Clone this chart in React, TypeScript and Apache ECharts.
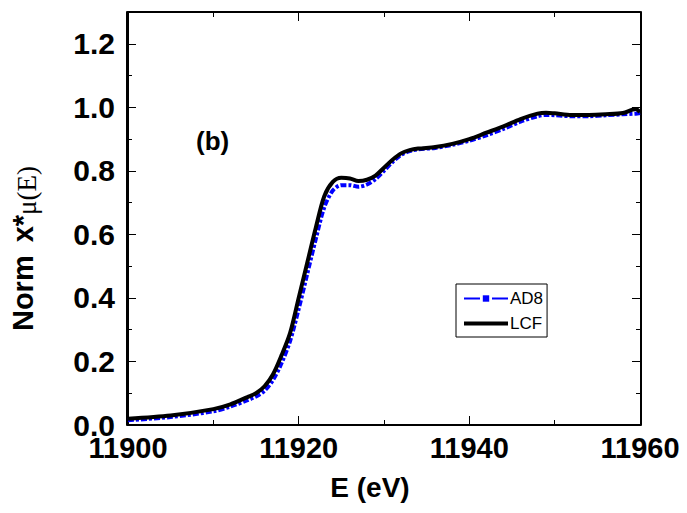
import React, { useEffect, useRef } from "react";
import * as echarts from "echarts";

const energy = [11900, 11905, 11910, 11912, 11914, 11915, 11916, 11917, 11918, 11919, 11920, 11921, 11922, 11923, 11924, 11925, 11926, 11927, 11928, 11929, 11930, 11931, 11932, 11933, 11934, 11936, 11938, 11940, 11942, 11944, 11946, 11948, 11949, 11950, 11952, 11954, 11956, 11958, 11959.5, 11960];
const ad8 = [0.015, 0.025, 0.043, 0.058, 0.078, 0.09, 0.108, 0.142, 0.195, 0.265, 0.365, 0.475, 0.585, 0.685, 0.738, 0.755, 0.755, 0.75, 0.757, 0.774, 0.8, 0.828, 0.85, 0.862, 0.868, 0.872, 0.882, 0.895, 0.912, 0.932, 0.955, 0.972, 0.976, 0.975, 0.972, 0.972, 0.975, 0.978, 0.98, 0.982];
const lcf = [0.02, 0.03, 0.05, 0.065, 0.088, 0.1, 0.122, 0.16, 0.22, 0.29, 0.4, 0.51, 0.62, 0.72, 0.765, 0.778, 0.776, 0.768, 0.772, 0.785, 0.81, 0.835, 0.855, 0.865, 0.87, 0.875, 0.885, 0.9, 0.92, 0.94, 0.963, 0.98, 0.983, 0.981, 0.976, 0.976, 0.978, 0.982, 0.995, 0.985];

const xRange = { min: 11900, max: 11960, interval: 20 };
const yRange = { min: 0, max: 1.3, interval: 0.2 };

const font = "'Liberation Sans', Arial, sans-serif";
const GRID = { left: 127, right: 47, top: 12, bottom: 88 };
const PLOT_W = 687 - GRID.left - GRID.right;
const PLOT_H = 513 - GRID.top - GRID.bottom;

const line = { show: true, onZero: false, lineStyle: { color: "#000", width: 2 } };

// tick-only frame axis, moved to the opposite side of the plot so its outward ticks point inward
function tickAxis(position: string, offset: number, range: any) {
  return {
    type: "value", position, offset, ...range,
    axisLine: line,
    splitLine: { show: false },
    axisLabel: { show: false },
    axisTick: { show: true, length: 9 },
    minorTick: { show: true, splitNumber: 2, length: 5 },
  };
}

export default function App() {
  const ref = useRef<HTMLDivElement>(null);
  useEffect(() => {
    const chart = echarts.init(ref.current!, null, { renderer: "svg" });
    chart.setOption({
      animation: false,
      backgroundColor: "#fff",
      grid: { ...GRID, containLabel: false },
      xAxis: [
        {
          type: "value", position: "bottom", ...xRange,
          axisLine: line, axisTick: { show: false }, splitLine: { show: false },
          axisLabel: { color: "#000", fontFamily: font, fontWeight: "bold", fontSize: 29, lineHeight: 22, margin: 12, formatter: (v: number) => String(v) },
          name: "E (eV)", nameLocation: "middle", nameGap: 48,
          nameTextStyle: { color: "#000", fontFamily: font, fontWeight: "bold", fontSize: 28, padding: [0, 28, 0, 0] },
        },
        tickAxis("bottom", -PLOT_H, xRange),
        tickAxis("top", -PLOT_H, xRange),
      ],
      yAxis: [
        {
          type: "value", position: "left", ...yRange,
          axisLine: line, axisTick: { show: false }, splitLine: { show: false },
          axisLabel: { color: "#000", fontFamily: font, fontWeight: "bold", fontSize: 30, lineHeight: 22, margin: 13, formatter: (v: number) => v.toFixed(1), showMaxLabel: false },
          name: "{a|Norm}{s| }{b|x*}{c|μ(E)}", nameLocation: "middle", nameGap: 88,
          nameTextStyle: {
            color: "#000",
            padding: [0, 60, 0, 0],
            rich: {
              a: { fontFamily: font, fontWeight: "bold", fontSize: 29, color: "#000" },
              s: { fontFamily: font, fontSize: 29, width: 13 },
              b: { fontFamily: font, fontWeight: "bold", fontSize: 29, color: "#000" },
              c: { fontFamily: "'Liberation Serif', 'Times New Roman', serif", fontSize: 27, color: "#000", padding: [8, 0, 0, 0] },
            },
          },
        },
        tickAxis("right", -PLOT_W, yRange),
        tickAxis("left", -PLOT_W, yRange),
      ],
      legend: {
        orient: "vertical", left: 456, top: 284,
        borderColor: "#000", borderWidth: 1, borderRadius: 0,
        padding: [6, 4, 5, 6], itemGap: 8, itemWidth: 44, itemHeight: 8,
        textStyle: { color: "#000", fontFamily: font, fontSize: 17, padding: [0, 0, 0, -3] },
        data: [
          { name: "AD8", lineStyle: { type: [16, 12], width: 2 } },
          { name: "LCF", itemStyle: { opacity: 0 }, lineStyle: { width: 4 } },
        ],
      },
      graphic: [
        { type: "text", left: 196, top: 128, style: { text: "(b)", font: "bold 26px 'Liberation Sans', Arial, sans-serif", fill: "#000" } },
      ],
      series: [
        {
          name: "AD8", type: "line", smooth: 0.3, xAxisIndex: 0, yAxisIndex: 0,
          data: energy.map((e, i) => [e, ad8[i]]),
          symbol: "rect", symbolSize: 6, showSymbol: false,
          lineStyle: { color: "#0000ff", width: 4, type: [6, 2, 3, 2] },
          itemStyle: { color: "#0000ff" }, z: 2,
        },
        {
          name: "LCF", type: "line", smooth: 0.3, xAxisIndex: 0, yAxisIndex: 0,
          data: energy.map((e, i) => [e, lcf[i]]),
          symbol: "none",
          lineStyle: { color: "#000", width: 4 },
          itemStyle: { color: "#000" }, z: 3,
        },
      ],
    });
    return () => chart.dispose();
  }, []);
  return <div ref={ref} style={{ width: 687, height: 513, position: "absolute", left: 0, top: 0 }} />;
}
